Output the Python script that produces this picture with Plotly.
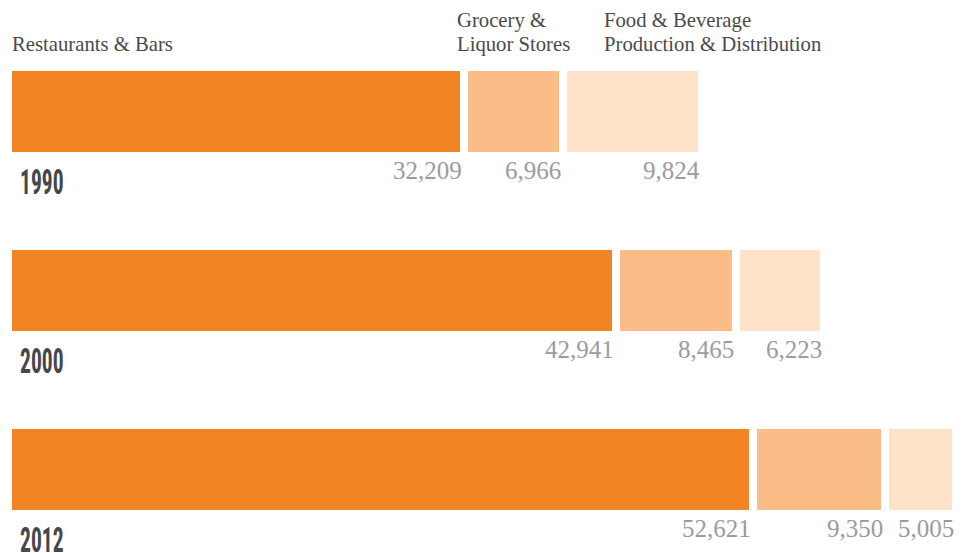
import json
import plotly.graph_objects as go

years = ["1990", "2000", "2012"]
categories = ["Restaurants & Bars", "Grocery & Liquor Stores", "Food & Beverage Production & Distribution"]
restaurants = [32209, 42941, 52621]
grocery = [6966, 8465, 9350]
food_bev = [9824, 6223, 5005]
series = [restaurants, grocery, food_bev]
colors = ["#F38423", "#FBBD87", "#FEE2C9"]

W, H = 968, 545  # page body has an 8px margin
ypos = list(range(len(years)))

fig = go.Figure()
for name, vals, col in zip(categories, series, colors):
    fig.add_trace(go.Bar(
        x=vals, y=ypos, orientation="h", name=name,
        marker=dict(color=col, line=dict(color="white", width=8)),
        width=0.497, hoverinfo="skip", showlegend=False,
    ))

serif = "Liberation Serif, Times New Roman, serif"
narrow = "Roboto Condensed, DejaVu Sans Condensed, DejaVu Sans, sans-serif"

annotations = []
for i, yr in enumerate(years):
    cum = 0
    for vals in series:
        cum += vals[i]
        annotations.append(dict(
            x=cum, y=i, xref="x", yref="y", text=f"{vals[i]:,}",
            xanchor="right", yanchor="middle", showarrow=False,
            xshift=0, yshift=-59,
            font=dict(family=serif, size=25, color="#9b9ba0"),
        ))
    annotations.append(dict(
        x=0, y=i, xref="x", yref="y", text=f"<b>{yr}</b>",
        xanchor="left", yanchor="middle", showarrow=False,
        xshift=10, yshift=-70,
        font=dict(family=narrow, size=36, color="#46464b"),
    ))

header_font = dict(family=serif, size=20.7, color="#4a4a4a")
headers = [
    (12, 44, "Restaurants & Bars"),
    (457, 20, "Grocery &"),
    (457, 44, "Liquor Stores"),
    (604, 20, "Food & Beverage"),
    (604, 44, "Production & Distribution"),
]
for px, py, t in headers:
    annotations.append(dict(
        x=(px - 8 - 2) / W, y=1 - (py - 8) / H, xref="paper", yref="paper", text=t,
        xanchor="left", yanchor="middle", showarrow=False, font=header_font,
    ))

fig.update_layout(
    width=W, height=H,
    margin=dict(l=0, r=0, t=0, b=0),
    barmode="stack", bargap=0,
    paper_bgcolor="white", plot_bgcolor="white",
    xaxis=dict(range=[0, W / 0.014158], visible=False, fixedrange=True),
    yaxis=dict(range=[(H - 103.5) / 179, -103.5 / 179], visible=False, fixedrange=True),
    annotations=annotations,
    hovermode=False,
)

post = """
var gd = document.getElementById('{plot_id}');
var yrs = %s;
function squeeze(){
  gd.querySelectorAll('g.annotation text').forEach(function(t){
    if (yrs.indexOf(t.textContent.trim()) >= 0) {
      t.removeAttribute('transform');
      var bb = t.getBBox();
      var x0 = bb.x;
      t.setAttribute('transform', 'translate(' + x0 + ',0) scale(0.6,1) translate(' + (-x0) + ',0)');
    }
  });
}
squeeze();
""" % json.dumps(years)

fig.write_html("out.html", config={"displayModeBar": False, "staticPlot": True}, post_script=post)
